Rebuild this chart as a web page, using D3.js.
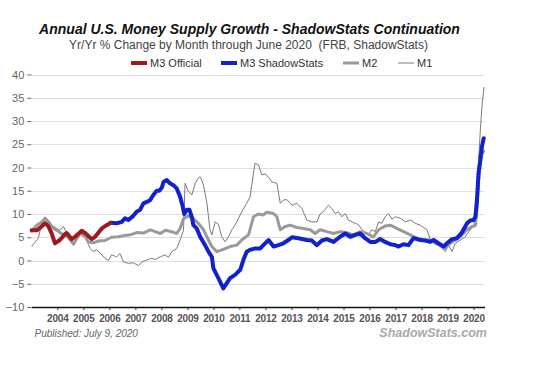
<!DOCTYPE html>
<html>
<head>
<meta charset="utf-8">
<script src="https://cdn.jsdelivr.net/npm/d3@7"></script>
<style>
  body { margin: 0; background: #fff; }
  svg { font-family: "Liberation Sans", Arial, sans-serif; }
</style>
</head>
<body>
<script>
/* Data: [year (decimal), yr/yr % change] */
const m3Official = [[2003.01,6.5],[2003.21,6.5],[2003.33,7.0],[2003.53,8.0],[2003.65,7.4],[2003.78,5.9],[2003.91,3.7],[2004.10,4.4],[2004.30,5.7],[2004.36,5.9],[2004.55,4.6],[2004.68,5.1],[2004.94,6.4],[2005.07,5.9],[2005.32,4.6],[2005.45,5.1],[2005.71,6.9],[2005.90,7.6],[2006.05,8.1]];

const m3Shadow = [[2006.05,8.1],[2006.28,8.0],[2006.48,8.3],[2006.60,9.1],[2006.73,8.7],[2006.92,9.6],[2007.05,10.5],[2007.18,10.9],[2007.31,12.3],[2007.44,12.6],[2007.57,13.0],[2007.69,14.1],[2007.82,15.0],[2007.92,15.0],[2008.02,15.7],[2008.08,16.9],[2008.21,17.3],[2008.33,16.6],[2008.46,16.2],[2008.59,15.5],[2008.72,13.7],[2008.82,11.6],[2008.88,10.0],[2008.98,10.9],[2009.08,10.9],[2009.17,9.4],[2009.23,7.6],[2009.36,6.9],[2009.49,5.1],[2009.68,3.3],[2009.81,1.9],[2009.94,0.8],[2010.00,-1.7],[2010.19,-3.8],[2010.32,-5.3],[2010.38,-6.0],[2010.51,-4.9],[2010.64,-3.8],[2010.83,-3.1],[2011.03,-2.0],[2011.15,0.1],[2011.28,1.9],[2011.41,2.3],[2011.60,2.6],[2011.80,2.6],[2011.92,3.3],[2012.12,4.4],[2012.31,3.0],[2012.50,3.3],[2012.69,3.7],[2012.88,4.4],[2013.02,5.0],[2013.27,4.8],[2013.59,4.4],[2013.78,4.3],[2013.98,3.3],[2014.17,4.3],[2014.36,4.6],[2014.62,4.0],[2014.87,5.1],[2015.07,5.8],[2015.26,5.1],[2015.45,5.5],[2015.64,5.8],[2015.83,4.8],[2016.03,4.0],[2016.22,4.0],[2016.41,4.6],[2016.60,4.0],[2016.80,3.5],[2016.99,3.3],[2017.12,3.0],[2017.31,3.5],[2017.50,3.3],[2017.69,4.8],[2017.95,4.4],[2018.14,4.3],[2018.34,4.0],[2018.46,4.4],[2018.65,3.7],[2018.85,3.0],[2018.98,3.7],[2019.17,4.6],[2019.36,4.8],[2019.55,6.0],[2019.75,8.0],[2019.87,8.6],[2020.00,8.7],[2020.07,9.4],[2020.13,13.0],[2020.19,18.8],[2020.26,21.6],[2020.32,24.5],[2020.39,26.3]];

const m2 = [[2003.01,6.3],[2003.21,7.6],[2003.40,8.3],[2003.53,9.1],[2003.65,8.4],[2003.85,6.9],[2004.04,6.3],[2004.23,5.5],[2004.42,5.0],[2004.62,3.5],[2004.87,5.8],[2005.07,5.2],[2005.19,4.0],[2005.38,3.8],[2005.58,4.2],[2005.83,4.3],[2006.09,5.0],[2006.35,5.1],[2006.60,5.4],[2006.86,5.6],[2007.05,6.0],[2007.31,5.9],[2007.57,6.6],[2007.76,6.2],[2007.96,5.8],[2008.15,6.5],[2008.40,6.2],[2008.59,5.8],[2008.72,6.9],[2008.85,9.0],[2009.04,9.6],[2009.23,9.0],[2009.42,8.0],[2009.62,6.6],[2009.81,4.4],[2009.94,3.0],[2010.13,1.9],[2010.38,2.4],[2010.64,3.0],[2010.90,3.3],[2011.09,4.4],[2011.35,5.5],[2011.54,9.4],[2011.73,10.0],[2011.92,9.8],[2012.05,10.4],[2012.31,10.1],[2012.44,9.4],[2012.57,6.6],[2012.76,7.3],[2012.95,7.6],[2013.21,7.1],[2013.46,6.9],[2013.72,6.6],[2013.91,5.8],[2014.10,6.6],[2014.36,6.2],[2014.62,5.8],[2014.87,6.2],[2015.12,6.0],[2015.38,5.5],[2015.64,6.2],[2015.90,5.8],[2016.15,5.1],[2016.35,6.6],[2016.60,7.4],[2016.80,7.6],[2017.05,6.9],[2017.31,6.2],[2017.57,5.5],[2017.82,4.8],[2018.08,4.4],[2018.34,4.4],[2018.53,3.7],[2018.72,3.3],[2018.91,2.6],[2019.10,3.7],[2019.30,4.4],[2019.49,5.1],[2019.75,6.6],[2019.94,7.3],[2020.07,7.5],[2020.13,11.0],[2020.19,17.0],[2020.26,21.0],[2020.32,23.0],[2020.39,23.5]];

const m1 = [[2003.02,3.1],[2003.14,3.9],[2003.27,4.8],[2003.40,8.0],[2003.59,9.1],[2003.78,7.6],[2003.98,6.9],[2004.10,6.5],[2004.23,7.3],[2004.42,5.5],[2004.62,4.0],[2004.81,5.2],[2004.94,5.8],[2005.07,5.1],[2005.26,2.6],[2005.38,1.9],[2005.52,2.3],[2005.71,1.2],[2005.83,0.5],[2005.96,0.0],[2006.09,1.2],[2006.28,0.8],[2006.41,1.5],[2006.54,-0.3],[2006.73,-0.6],[2006.92,-0.5],[2007.12,-1.1],[2007.25,-0.3],[2007.44,0.1],[2007.63,0.5],[2007.76,0.2],[2007.96,0.8],[2008.15,1.2],[2008.27,0.7],[2008.40,1.9],[2008.59,2.6],[2008.72,4.4],[2008.85,6.5],[2008.91,16.6],[2009.04,14.8],[2009.17,14.1],[2009.30,16.6],[2009.42,17.7],[2009.49,18.0],[2009.55,17.3],[2009.62,16.2],[2009.75,12.3],[2009.87,6.6],[2009.94,5.5],[2010.07,8.3],[2010.19,7.8],[2010.32,5.1],[2010.45,4.0],[2010.58,5.1],[2010.71,6.6],[2010.90,8.3],[2011.09,10.5],[2011.28,12.3],[2011.41,13.7],[2011.54,18.8],[2011.60,20.9],[2011.73,20.6],[2011.86,18.4],[2011.99,18.6],[2012.12,17.9],[2012.25,16.9],[2012.44,16.6],[2012.57,12.3],[2012.69,13.0],[2012.82,13.1],[2013.02,11.9],[2013.21,12.3],[2013.40,11.2],[2013.59,8.7],[2013.78,8.3],[2013.98,8.3],[2014.10,10.0],[2014.23,10.5],[2014.42,11.9],[2014.55,11.2],[2014.68,10.1],[2014.81,10.5],[2014.94,9.4],[2015.07,10.1],[2015.19,8.7],[2015.45,8.0],[2015.58,7.7],[2015.71,6.6],[2015.96,5.5],[2016.09,6.6],[2016.22,6.2],[2016.35,8.3],[2016.47,8.0],[2016.60,9.4],[2016.73,10.1],[2016.86,8.9],[2016.99,9.4],[2017.18,9.1],[2017.38,8.3],[2017.57,8.7],[2017.76,8.0],[2017.95,7.6],[2018.21,6.6],[2018.34,4.4],[2018.53,3.7],[2018.72,3.0],[2018.91,1.9],[2019.04,3.3],[2019.17,1.9],[2019.30,3.7],[2019.49,4.4],[2019.68,5.1],[2019.87,6.6],[2020.00,7.3],[2020.07,9.0],[2020.13,14.0],[2020.19,21.0],[2020.26,28.0],[2020.32,33.0],[2020.40,37.2]];

const seriesNames = ["M3 Official", "M3 ShadowStats", "M2", "M1"];
const yTicks = [-10, -5, 0, 5, 10, 15, 20, 25, 30, 35, 40];
const xTicks = d3.range(2004, 2021);

/* Styles */
const COLORS = { "M3 Official": "#9e1a1e", "M3 ShadowStats": "#1022cc", "M2": "#9a9a9a", "M1": "#7a7a7a" };
const WIDTHS = { "M3 Official": 4, "M3 ShadowStats": 4, "M2": 3, "M1": 1 };

const W = 541, H = 366;
const svg = d3.select("body").append("svg")
  .attr("width", W)
  .attr("height", H);

/* Scales */
const x = d3.scaleLinear().domain([2003, 2020.42]).range([31.3, 484.5]);
const y = d3.scaleLinear().domain([-10, 40]).range([307, 74.5]);

/* Gridlines */
svg.append("g")
  .selectAll("line")
  .data(yTicks.filter(d => d > -10))
  .enter().append("line")
  .attr("x1", x.range()[0])
  .attr("x2", x.range()[1])
  .attr("y1", d => Math.round(y(d)) + 0.5)
  .attr("y2", d => Math.round(y(d)) + 0.5)
  .attr("stroke", "#dedede")
  .attr("stroke-width", 1);

/* Y axis */
const yAxis = svg.append("g")
  .attr("transform", "translate(" + x.range()[0] + ",0)")
  .call(d3.axisLeft(y).tickValues(yTicks).tickSize(4).tickPadding(3));
yAxis.select(".domain").remove();
yAxis.selectAll("line").attr("stroke", "#666");
yAxis.selectAll("text")
  .style("font-size", "11px")
  .attr("fill", "#666");

/* X axis */
const xAxis = svg.append("g")
  .attr("transform", "translate(0," + y(-10) + ")")
  .call(d3.axisBottom(x).tickValues(xTicks).tickFormat(d3.format("d")).tickSize(3).tickSizeOuter(0).tickPadding(5));
xAxis.select(".domain").attr("stroke", "#111").attr("stroke-width", 1.3);
xAxis.selectAll("line").attr("stroke", "#333");
xAxis.selectAll("text")
  .style("font-size", "10px")
  .style("font-weight", "bold")
  .style("letter-spacing", "-0.2px")
  .attr("fill", "#5a5258");

/* Lines */
const line = d3.line().x(d => x(d[0])).y(d => y(d[1]));
const drawOrder = [["M1", m1], ["M2", m2], ["M3 ShadowStats", m3Shadow], ["M3 Official", m3Official]];
svg.append("g")
  .selectAll("path")
  .data(drawOrder)
  .enter().append("path")
  .attr("d", d => line(d[1]))
  .attr("fill", "none")
  .attr("stroke", d => COLORS[d[0]])
  .attr("stroke-width", d => WIDTHS[d[0]])
  .attr("stroke-linejoin", "round")
  .attr("stroke-linecap", "round");

/* Title */
svg.append("text")
  .attr("x", 249.5)
  .attr("y", 33.5)
  .attr("text-anchor", "middle")
  .style("font-size", "14px")
  .style("font-weight", "bold")
  .style("font-style", "italic")
  .attr("fill", "#111")
  .text("Annual U.S. Money Supply Growth - ShadowStats Continuation");

svg.append("text")
  .attr("x", 248.5)
  .attr("y", 49.3)
  .attr("text-anchor", "middle")
  .style("font-size", "12px")
  .style("white-space", "pre")
  .attr("fill", "#444")
  .text("Yr/Yr % Change by Month through June 2020  (FRB, ShadowStats)");

/* Legend */
const legendX = [131, 221, 343, 398];
const legend = svg.append("g")
  .selectAll("g")
  .data(seriesNames)
  .enter().append("g")
  .attr("transform", (d, i) => "translate(" + legendX[i] + ",63)");
legend.append("line")
  .attr("x1", 0).attr("x2", 16)
  .attr("stroke", d => COLORS[d])
  .attr("stroke-width", d => WIDTHS[d]);
legend.append("text")
  .attr("x", 19)
  .attr("y", 4)
  .style("font-size", "11px")
  .attr("fill", "#333")
  .text(d => d);

/* Footer */
svg.append("text")
  .attr("x", 34.5)
  .attr("y", 337)
  .style("font-size", "10px")
  .style("font-style", "italic")
  .attr("fill", "#666")
  .text("Published: July 9, 2020");

svg.append("text")
  .attr("x", 487)
  .attr("y", 337)
  .attr("text-anchor", "end")
  .style("font-size", "12.5px")
  .style("font-weight", "bold")
  .style("font-style", "italic")
  .attr("fill", "#aaa")
  .text("ShadowStats.com");
</script>
</body>
</html>
